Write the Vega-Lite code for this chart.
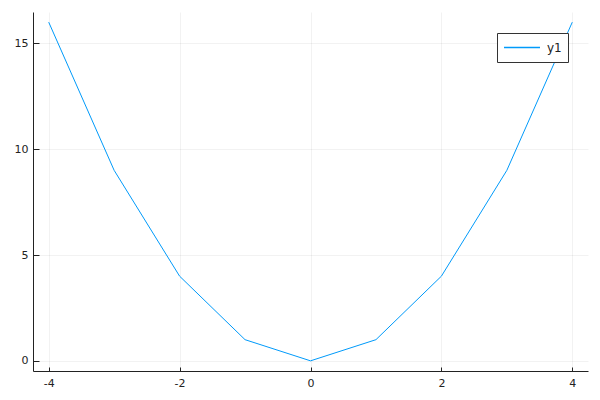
{
  "$schema": "https://vega.github.io/schema/vega-lite/v6.json",
  "autosize": {"type": "none"},
  "padding": {"left": 33, "top": 12, "right": 12, "bottom": 29},
  "width": 555,
  "height": 359,
  "background": "white",
  "config": {
    "view": {"stroke": null},
    "font": "DejaVu Sans",
    "axis": {
      "grid": true,
      "gridColor": "#000000",
      "gridOpacity": 0.1,
      "gridWidth": 0.5,
      "domainColor": "#222222",
      "domainWidth": 1,
      "tickColor": "#222222",
      "labelColor": "#222222",
      "labelFont": "DejaVu Sans",
      "labelFontSize": 11,
      "title": null
    }
  },
  "data": {
    "values": [
      {"x": -4, "y": 16, "series": "y1"},
      {"x": -3, "y": 9, "series": "y1"},
      {"x": -2, "y": 4, "series": "y1"},
      {"x": -1, "y": 1, "series": "y1"},
      {"x": 0, "y": 0, "series": "y1"},
      {"x": 1, "y": 1, "series": "y1"},
      {"x": 2, "y": 4, "series": "y1"},
      {"x": 3, "y": 9, "series": "y1"},
      {"x": 4, "y": 16, "series": "y1"}
    ]
  },
  "mark": {"type": "line", "strokeWidth": 1, "clip": true},
  "encoding": {
    "x": {
      "field": "x",
      "type": "quantitative",
      "scale": {"domain": [-4.24, 4.24], "nice": false, "zero": false},
      "axis": {"values": [-4, -2, 0, 2, 4], "labelExpr": "toString(datum.value)", "tickSize": -4, "labelPadding": 10, "title": null}
    },
    "y": {
      "field": "y",
      "type": "quantitative",
      "scale": {"domain": [-0.48, 16.48], "nice": false, "zero": false},
      "axis": {"values": [0, 5, 10, 15], "tickSize": -6, "labelPadding": 11, "title": null}
    },
    "color": {
      "field": "series",
      "type": "nominal",
      "scale": {"range": ["#009AFA"]},
      "legend": {
        "title": null,
        "orient": "none",
        "legendX": 464,
        "legendY": 21,
        "symbolType": "M-1,0H1",
        "symbolSize": 1296,
        "symbolStrokeWidth": 1.5,
        "symbolStrokeColor": "#009AFA",
        "symbolFillColor": "#009AFA",
        "symbolOpacity": 1,
        "clipHeight": 17,
        "padding": 6,
        "fillColor": "white",
        "strokeColor": "#333333",
        "labelFontSize": 12,
        "labelColor": "#222222",
        "labelFont": "DejaVu Sans",
        "labelOffset": 6,
        "cornerRadius": 0
      }
    }
  }
}
